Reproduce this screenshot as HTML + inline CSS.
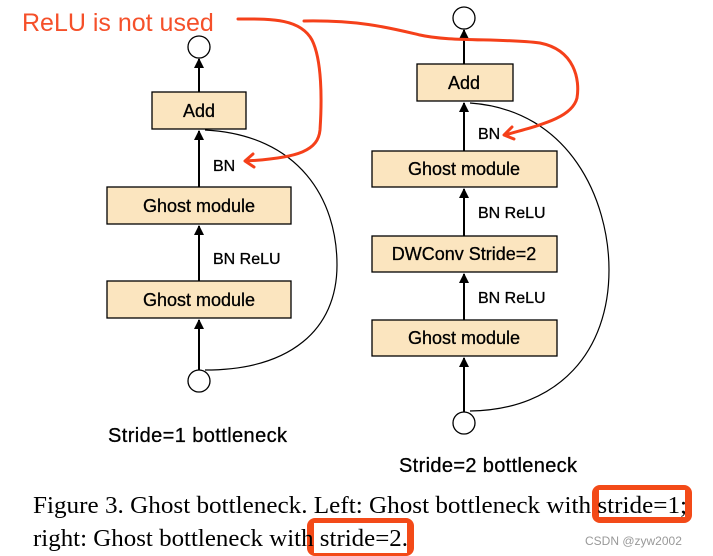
<!DOCTYPE html>
<html><head><meta charset="utf-8"><style>
html,body{margin:0;padding:0;background:#fff;}
svg{display:block;}
</style></head><body>
<svg width="713" height="556" viewBox="0 0 713 556" xmlns="http://www.w3.org/2000/svg">
<defs>
<marker id="ar" viewBox="0 0 10 10" refX="9" refY="5" markerWidth="5" markerHeight="6" orient="auto"><path d="M0,0 L10,5 L0,10 z" fill="#000"/></marker>
</defs>
<g font-family="Liberation Sans, sans-serif" fill="#000" stroke="#000" stroke-width="0.3">
<!-- LEFT -->
<circle cx="199" cy="47" r="11" fill="#fff" stroke="#000" stroke-width="1.3"/>
<line x1="199" y1="92" x2="199" y2="59" stroke="#000" stroke-width="2" marker-end="url(#ar)"/>
<rect x="152" y="92" width="94" height="37" fill="#fbe5bf" stroke="#000" stroke-width="1.3"/>
<text x="199" y="117" font-size="18" text-anchor="middle">Add</text>
<line x1="199" y1="187" x2="199" y2="131" stroke="#000" stroke-width="2" marker-end="url(#ar)"/>
<text x="213" y="171" font-size="16">BN</text>
<rect x="107" y="187" width="184" height="37" fill="#fbe5bf" stroke="#000" stroke-width="1.3"/>
<text x="199" y="212" font-size="18" text-anchor="middle">Ghost module</text>
<line x1="199" y1="281" x2="199" y2="226" stroke="#000" stroke-width="2" marker-end="url(#ar)"/>
<text x="213" y="264" font-size="16">BN ReLU</text>
<rect x="107" y="281" width="184" height="37" fill="#fbe5bf" stroke="#000" stroke-width="1.3"/>
<text x="199" y="306" font-size="18" text-anchor="middle">Ghost module</text>
<line x1="199" y1="370" x2="199" y2="320" stroke="#000" stroke-width="2" marker-end="url(#ar)"/>
<circle cx="199" cy="381" r="11" fill="#fff" stroke="#000" stroke-width="1.3"/>
<path d="M205,130 C300,135 337,200 337,265 C337,330 290,370 205,370" fill="none" stroke="#000" stroke-width="1.2"/>
<text x="108" y="442" font-size="20" textLength="179">Stride=1 bottleneck</text>
<!-- RIGHT -->
<circle cx="464" cy="18" r="11" fill="#fff" stroke="#000" stroke-width="1.3"/>
<line x1="464" y1="64" x2="464" y2="30" stroke="#000" stroke-width="2" marker-end="url(#ar)"/>
<rect x="417" y="64" width="96" height="37" fill="#fbe5bf" stroke="#000" stroke-width="1.3"/>
<text x="464" y="89" font-size="18" text-anchor="middle">Add</text>
<line x1="464" y1="151" x2="464" y2="103" stroke="#000" stroke-width="2" marker-end="url(#ar)"/>
<text x="478" y="139" font-size="16">BN</text>
<rect x="372" y="151" width="185" height="36" fill="#fbe5bf" stroke="#000" stroke-width="1.3"/>
<text x="464" y="175" font-size="18" text-anchor="middle">Ghost module</text>
<line x1="464" y1="236" x2="464" y2="189" stroke="#000" stroke-width="2" marker-end="url(#ar)"/>
<text x="478" y="218" font-size="16">BN ReLU</text>
<rect x="372" y="236" width="185" height="36" fill="#fbe5bf" stroke="#000" stroke-width="1.3"/>
<text x="464" y="260" font-size="18" text-anchor="middle">DWConv Stride=2</text>
<line x1="464" y1="320" x2="464" y2="274" stroke="#000" stroke-width="2" marker-end="url(#ar)"/>
<text x="478" y="303" font-size="16">BN ReLU</text>
<rect x="372" y="320" width="185" height="36" fill="#fbe5bf" stroke="#000" stroke-width="1.3"/>
<text x="464" y="344" font-size="18" text-anchor="middle">Ghost module</text>
<line x1="464" y1="412" x2="464" y2="358" stroke="#000" stroke-width="2" marker-end="url(#ar)"/>
<circle cx="464" cy="423" r="11" fill="#fff" stroke="#000" stroke-width="1.3"/>
<path d="M470,103 C570,110 609,200 609,270 C609,350 560,410 470,411" fill="none" stroke="#000" stroke-width="1.2"/>
<text x="399" y="472" font-size="20" textLength="178">Stride=2 bottleneck</text>
</g>
<!-- red annotations -->
<text x="22" y="31" font-family="Liberation Sans, sans-serif" font-size="25" fill="#f5502a">ReLU is not used</text>
<g fill="none" stroke="#f5401a" stroke-width="3" stroke-linecap="round" stroke-linejoin="round">
<path d="M238,19 C270,19 300,18 312,40 C322,60 322,100 320,130 C318,150 300,158 246,161"/>
<path d="M253,154 L245,161 L254,167"/>
<path d="M304,21 C360,20 390,28 420,35 C450,42 500,38 540,43 C575,50 580,80 577,98 C572,118 540,125 505,135"/>
<path d="M512,127 L504,135 L514,139"/>
</g>
<!-- caption -->
<rect x="592" y="485" width="100" height="38" rx="8" fill="#f34a18"/>
<rect x="599" y="490" width="86" height="27" fill="#fff"/>
<rect x="307" y="518" width="107" height="38" rx="8" fill="#f34a18"/>
<rect x="314" y="523" width="93" height="30" fill="#fff"/>
<g font-family="Liberation Serif, serif" font-size="24" fill="#000">
<text x="33" y="513" textLength="654" lengthAdjust="spacingAndGlyphs">Figure 3. Ghost bottleneck. Left: Ghost bottleneck with stride=1;</text>
<text x="33" y="546" textLength="375" lengthAdjust="spacingAndGlyphs">right: Ghost bottleneck with stride=2.</text>
</g>
<text x="585" y="545" font-family="Liberation Sans, sans-serif" font-size="12" fill="#999">CSDN @zyw2002</text>
</svg>
</body></html>
